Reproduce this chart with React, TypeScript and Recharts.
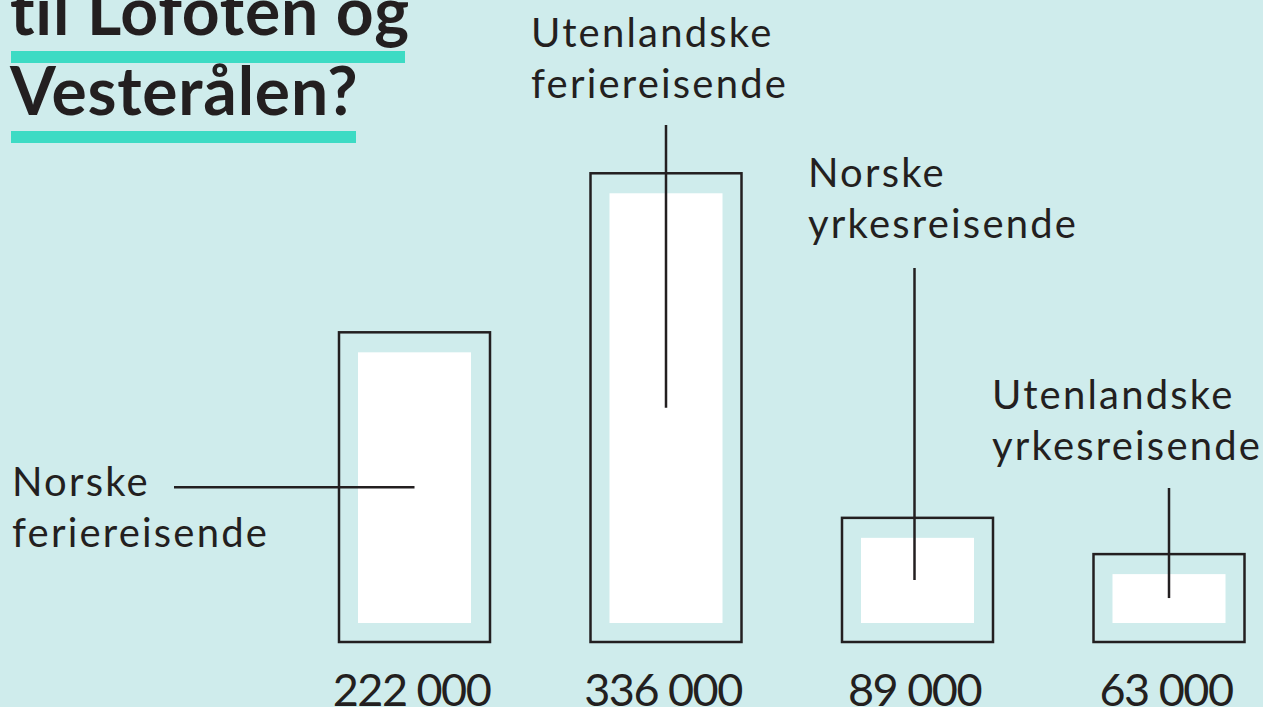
import { BarChart, Bar, XAxis, YAxis, LabelList } from 'recharts';

const categories = ['Norske feriereisende', 'Utenlandske feriereisende', 'Norske yrkesreisende', 'Utenlandske yrkesreisende'];
const travellers = [222000, 336000, 89000, 63000];
const valueLabels = ['222 000', '336 000', '89 000', '63 000'];
const labelLines = [
  ['Norske', 'feriereisende'],
  ['Utenlandske', 'feriereisende'],
  ['Norske', 'yrkesreisende'],
  ['Utenlandske', 'yrkesreisende'],
];
const titleLines = ['til Lofoten og', 'Vesterålen?'];

const data = categories.map((name, i) => ({ name, value: travellers[i], label: valueLabels[i] }));

const BG = '#cfecec';
const INK = '#231f20';
const TEAL = '#3ddbc4';
const FONT = 'Lato, "Open Sans", sans-serif';

// label anchors + where the leader line starts (page pixels)
const labelPos = [
  { x: 12, y: 496, lineFrom: 174, horizontal: true, shift: 0 },
  { x: 531, y: 47, lineFrom: 125, horizontal: false, shift: 0 },
  { x: 808, y: 187, lineFrom: 268, horizontal: false, shift: -3 },
  { x: 992, y: 409, lineFrom: 488, horizontal: false, shift: 0 },
];

function FramedBar(props: any) {
  const { x, y, width, height, index } = props;
  const inset = 19;
  const cx = x + width / 2;
  const cy = y + height / 2;
  const lp = labelPos[index];
  return (
    <g>
      <rect x={x} y={y} width={width} height={height} fill="none" stroke={INK} strokeWidth={2.5} />
      <rect x={x + inset} y={y + inset + 1} width={width - inset * 2} height={height - inset * 2 - 1} fill="#ffffff" />
      {lp.horizontal ? (
        <line x1={lp.lineFrom} y1={cy} x2={cx} y2={cy} stroke={INK} strokeWidth={2.5} />
      ) : (
        <line x1={cx + lp.shift} y1={lp.lineFrom} x2={cx + lp.shift} y2={cy} stroke={INK} strokeWidth={2.5} />
      )}
      <text x={lp.x} y={lp.y} fontFamily={FONT} fontSize={40} fill={INK} letterSpacing={2.2}>
        {labelLines[index].map((t, i) => (
          <tspan key={i} x={lp.x} dy={i === 0 ? 0 : 51}>{t}</tspan>
        ))}
      </text>
    </g>
  );
}

function ValueLabel(props: any) {
  const { x, width, index } = props;
  return (
    <text x={x + width / 2 - 3} y={706} textAnchor="middle" fontFamily={FONT} fontSize={45} fill={INK} letterSpacing={-1.5}>
      {valueLabels[index]}
    </text>
  );
}

export default function App() {
  return (
    <div style={{ position: 'fixed', left: 0, top: 0, width: 1263, height: 707, background: BG, overflow: 'hidden' }}>
      <svg width={1263} height={707} style={{ position: 'absolute', left: 0, top: 0 }}>
        <text x={10} y={35} fontFamily={FONT} fontWeight={700} fontSize={66} fill={INK} letterSpacing={0.8}>{titleLines[0]}</text>
        <rect x={11} y={51} width={394} height={12} fill={TEAL} />
        <text x={10} y={115} fontFamily={FONT} fontWeight={700} fontSize={66} fill={INK} letterSpacing={0.8}>{titleLines[1]}</text>
        <rect x={11} y={131} width={345} height={12} fill={TEAL} />
      </svg>
      <div style={{ position: 'absolute', left: 0, top: 0 }}>
        <BarChart width={1300} height={707} data={data} margin={{ top: 84, right: 5, left: 289, bottom: 65 }}>
          <XAxis dataKey="name" hide />
          <YAxis hide domain={[0, 400000]} />
          <Bar dataKey="value" barSize={151} shape={<FramedBar />} isAnimationActive={false}>
            <LabelList dataKey="label" content={<ValueLabel />} />
          </Bar>
        </BarChart>
      </div>
    </div>
  );
}
